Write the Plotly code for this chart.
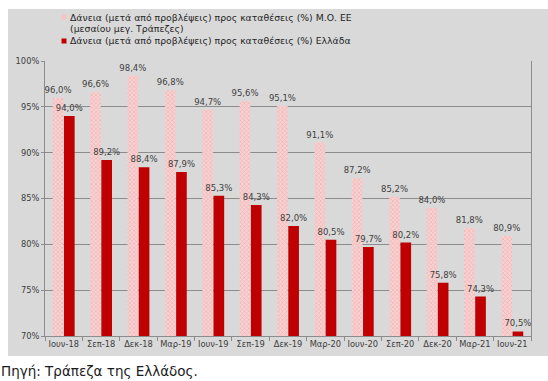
import plotly.graph_objects as go

# Quarterly periods
periods = ["Ιουν-18", "Σεπ-18", "Δεκ-18", "Μαρ-19", "Ιουν-19", "Σεπ-19", "Δεκ-19",
           "Μαρ-20", "Ιουν-20", "Σεπ-20", "Δεκ-20", "Μαρ-21", "Ιουν-21"]

# Loans (after provisions) to deposits, %
eu_avg = [96.0, 96.6, 98.4, 96.8, 94.7, 95.6, 95.1, 91.1, 87.2, 85.2, 84.0, 81.8, 80.9]
greece = [94.0, 89.2, 88.4, 87.9, 85.3, 84.3, 82.0, 80.5, 79.7, 80.2, 75.8, 74.3, 70.5]

y_ticks = [70, 75, 80, 85, 90, 95, 100]

legend_lines = [
    "Δάνεια (μετά από προβλέψεις) προς καταθέσεις (%) Μ.Ο. ΕΕ",
    "(μεσαίου μεγ. Τράπεζες)",
    "Δάνεια (μετά από προβλέψεις) προς καταθέσεις (%) Ελλάδα",
]

PINK = "#f3bcbc"
PINK_FG = "#e79494"
PINK_BG = "#f8d2d2"
RED = "#c00000"


def pct(v):
    return f"{v:.1f}%".replace(".", ",")


W, H = 548, 381
L, R, T, B = 45, 17, 61, 45
pw, ph = W - L - R, H - T - B


def px_x(p):
    return (p - L) / pw


def px_y(p):
    return (H - B - p) / ph


label_font = dict(family="DejaVu Sans", size=8.5, color="#404040")

fig = go.Figure()
fig.add_trace(go.Bar(
    x=periods, y=eu_avg, name=legend_lines[0],
    marker=dict(color=PINK, line=dict(width=0),
                pattern=dict(shape="x", fgcolor=PINK_FG, bgcolor=PINK_BG,
                             size=3, solidity=0.4)),
    text=[pct(v) for v in eu_avg], textposition="outside",
    textfont=label_font, constraintext="none", cliponaxis=False,
))
fig.add_trace(go.Bar(
    x=periods, y=greece, name=legend_lines[2],
    marker=dict(color=RED, line=dict(width=0)),
    text=[pct(v) for v in greece], textposition="outside",
    textfont=label_font, constraintext="none", cliponaxis=False,
))

# Grey chart panel behind plot and legend
fig.add_shape(type="rect", xref="paper", yref="paper",
              x0=px_x(8), x1=px_x(W + 2), y0=px_y(356), y1=px_y(9),
              fillcolor="#d9d9d9", line=dict(width=0), layer="below")

# Legend keys and entries
legend_font = dict(family="DejaVu Sans", size=9.3, color="#262626")
for sw_y, color in ((17, "#f5c4c4"), (41, RED)):
    fig.add_shape(type="rect", xref="paper", yref="paper",
                  x0=px_x(61.5), x1=px_x(66.5), y0=px_y(sw_y + 2.5), y1=px_y(sw_y - 2.5),
                  fillcolor=color, line=dict(width=0))
for line, ly in zip(legend_lines, (17, 29, 41)):
    fig.add_annotation(text=line, xref="paper", yref="paper",
                       x=px_x(68), y=px_y(ly), xanchor="left", yanchor="middle",
                       showarrow=False, font=legend_font)

fig.add_annotation(text="Πηγή: Τράπεζα της Ελλάδος.", xref="paper", yref="paper",
                   x=px_x(0), y=px_y(380), xanchor="left", yanchor="bottom",
                   showarrow=False, borderpad=0,
                   font=dict(family="DejaVu Sans", size=13.5, color="#1a1a1a"))

fig.update_layout(
    width=W, height=H,
    margin=dict(l=L, r=R, t=T, b=B),
    paper_bgcolor="white", plot_bgcolor="#d9d9d9",
    barmode="group", bargap=0.4, bargroupgap=0.05,
    showlegend=False,
    font=dict(family="DejaVu Sans", color="#404040"),
)
fig.update_xaxes(
    showline=True, linecolor="#8c8c8c", linewidth=1,
    ticks="outside", tickson="boundaries", ticklen=4, tickcolor="#8c8c8c",
    tickangle=0,
    tickfont=dict(family="DejaVu Sans", size=8.3, color="#404040"),
    showgrid=False,
)
fig.update_yaxes(
    range=[70, 100], tickvals=y_ticks, ticktext=[f"{v}%" for v in y_ticks],
    showline=True, linecolor="#8c8c8c", linewidth=1, mirror=True,
    ticks="outside", ticklen=3, tickcolor="#8c8c8c",
    showgrid=True, gridcolor="#8c8c8c", gridwidth=1, zeroline=False,
    tickfont=dict(family="DejaVu Sans", size=8.3, color="#404040"),
)

fig.write_html("out.html")
